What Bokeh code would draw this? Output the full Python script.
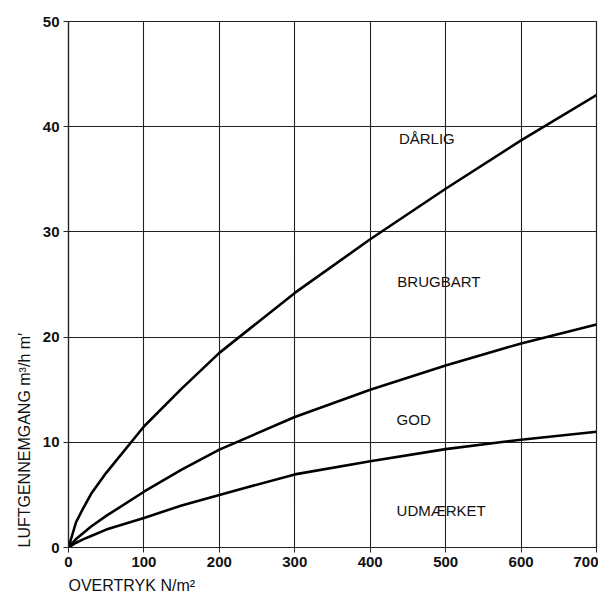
from bokeh.plotting import figure
from bokeh.models import Range1d, Label, SingleIntervalTicker, Title
from bokeh.embed import file_html
from bokeh.resources import INLINE

# Data
pressure = [0, 10, 20, 30, 50, 100, 150, 200, 300, 400, 500, 600, 700]
darlig = [0, 2.4, 3.8, 5.1, 7.1, 11.5, 15.1, 18.5, 24.2, 29.3, 34.1, 38.7, 43.0]
brugbart = [0, 0.8, 1.4, 2.0, 3.0, 5.3, 7.4, 9.3, 12.4, 15.0, 17.3, 19.4, 21.2]
god = [0, 0.45, 0.8, 1.1, 1.7, 2.8, 4.0, 5.0, 6.95, 8.2, 9.35, 10.25, 11.0]

zone_names = ["DÅRLIG", "BRUGBART", "GOD", "UDMÆRKET"]
zone_x = [438, 436, 435, 435]
zone_y = [38.9, 25.25, 12.2, 3.5]

x_ticks_interval = 100
y_ticks_interval = 10
x_label = "OVERTRYK N/m²"
y_label = "LUFTGENNEMGANG  m³/h m′"

FONT = "Liberation Sans"
INK = "#222222"

p = figure(width=598, height=598, output_backend="svg", toolbar_location=None,
           x_range=Range1d(0, 700), y_range=Range1d(0, 50),
           min_border_left=68, min_border_right=2, min_border_top=21, min_border_bottom=50)

p.background_fill_color = "white"
p.border_fill_color = "white"
p.outline_line_color = INK
p.outline_line_width = 1.2

p.xaxis.ticker = SingleIntervalTicker(interval=x_ticks_interval, num_minor_ticks=0)
p.yaxis.ticker = SingleIntervalTicker(interval=y_ticks_interval, num_minor_ticks=0)

for ax in (p.xaxis, p.yaxis):
    ax.axis_line_color = INK
    ax.axis_line_width = 1.2
    ax.major_tick_line_color = INK
    ax.major_tick_out = 5
    ax.major_tick_in = 0
    ax.minor_tick_line_color = None
    ax.major_label_text_font = FONT
    ax.major_label_text_font_size = "15px"
    ax.major_label_text_font_style = "bold"
    ax.major_label_text_color = "#111111"
p.xaxis.major_label_standoff = 4
p.yaxis.major_label_standoff = 4

p.xgrid.grid_line_color = INK
p.ygrid.grid_line_color = INK
p.xgrid.grid_line_width = 1.1
p.ygrid.grid_line_width = 1.1

for series in (darlig, brugbart, god):
    p.line(pressure, series, line_color="black", line_width=2.6, line_join="round")

for name, zx, zy in zip(zone_names, zone_x, zone_y):
    p.add_layout(Label(x=zx, y=zy, text=name, text_font=FONT, text_font_size="15px",
                       text_align="left", text_baseline="middle", text_color="#111111"))

p.add_layout(Title(text=x_label, align="left", text_font=FONT, text_font_size="16px",
                   text_font_style="normal", text_color="#111111", standoff=10), "below")
p.add_layout(Title(text=y_label, align="left", text_font=FONT, text_font_size="16px",
                   text_font_style="normal", text_color="#111111", standoff=14), "left")

open("out.html", "w").write(file_html(p, INLINE))
